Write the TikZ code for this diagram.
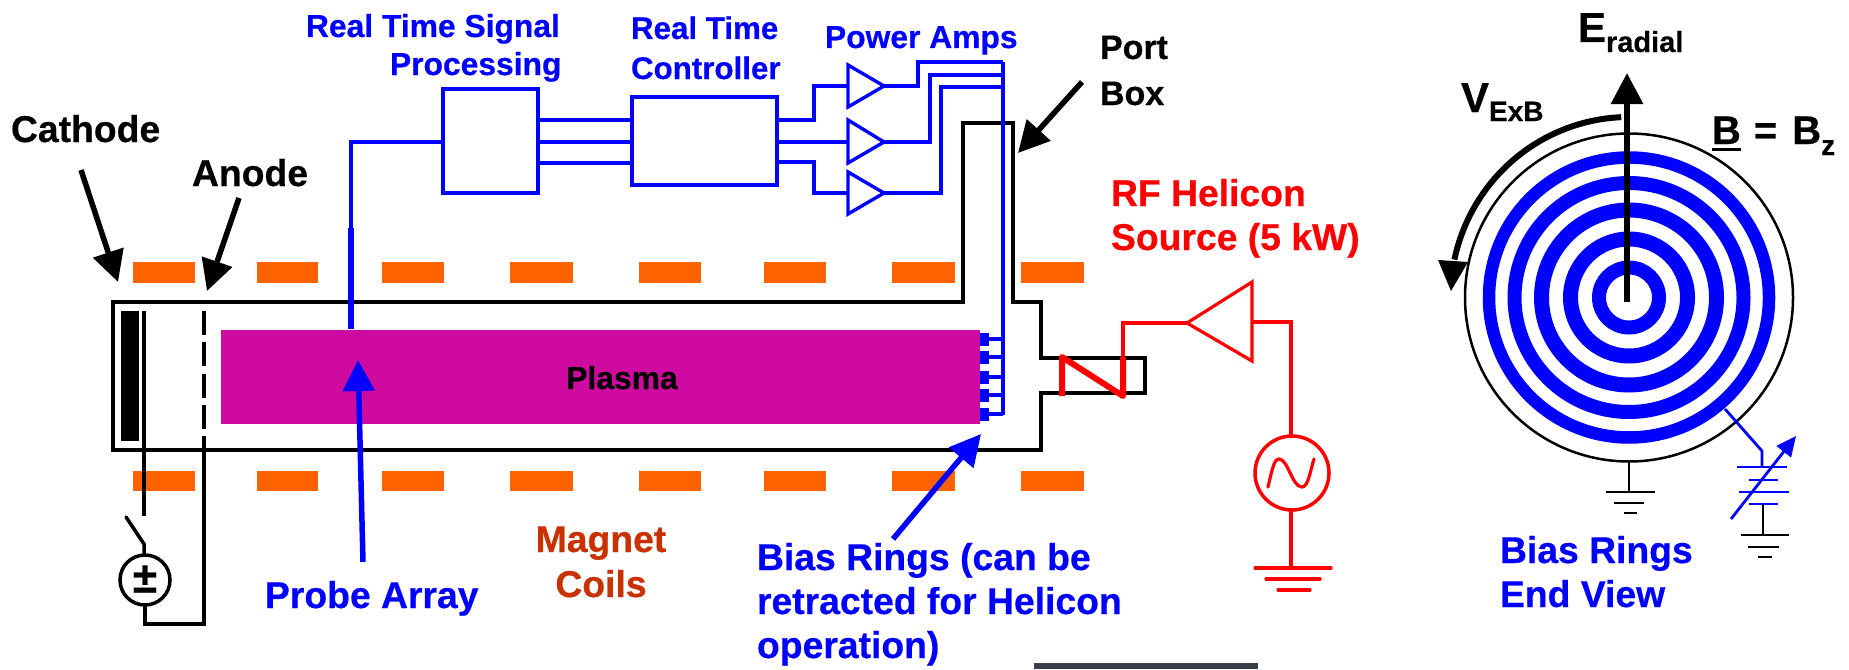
\documentclass[tikz,border=0pt]{standalone}
\usepackage{fontspec}
\setmainfont{Liberation Sans}[BoldFont={Liberation Sans Bold},BoldFeatures={FakeBold=0.5}]
\usetikzlibrary{arrows.meta,calc}
\definecolor{coilorange}{RGB}{255,98,0}
\definecolor{plasmac}{RGB}{207,10,160}
\definecolor{magnetc}{RGB}{200,50,0}
\definecolor{darkbar}{RGB}{58,62,72}
\definecolor{pblue}{RGB}{0,0,255}
\definecolor{pred}{RGB}{255,0,0}
\newcommand{\fs}[1]{\fontsize{#1}{#1}\selectfont}
\newcommand{\lowered}[3]{\raisebox{-#1pt}{\fs{#2}#3}}
\tikzset{
  lbl/.style={inner sep=0pt,outer sep=0pt,anchor=base west,font=\bfseries\fs{37.3}},
  small/.style={lbl,font=\bfseries\fs{31.8},text=pblue},
  coil/.style={fill=coilorange,draw=none},
  bwire/.style={draw=pblue,line width=3.4pt,line join=miter},
  kwire/.style={draw=black,line width=3.5pt,line join=miter},
  rwire/.style={draw=pred,line width=3.2pt,line join=miter},
  kthin/.style={draw=black,line width=2.5pt},
  bthin/.style={draw=pblue,line width=2.5pt},
  bigarrow/.style={line width=5.5pt,-{Triangle[width=31pt,length=31pt]}},
  bbox/.style={draw=pblue,line width=3.4pt,inner sep=0pt,outer sep=0pt,anchor=north west},
  ring/.style={draw=pblue,fill=none},
  term/.style={fill=pblue,draw=none},
}
\begin{document}
\begin{tikzpicture}[x=1pt,y=-1pt]
\useasboundingbox (0,0) rectangle (1849,669);
\fill[white] (0,0) rectangle (1849,669);

% bottom dark strip
\fill[darkbar] (1034,663) rectangle (1258,669);

% magnet coils
\foreach \a/\b in {133/195,257/318,382/444,510/573,639/701,764/826,892/955,1021/1084}{
  \fill[coil] (\a,262) rectangle (\b,283);
  \fill[coil] (\a,471) rectangle (\b,491);
}

% plasma
\node[fill=plasmac,inner sep=0pt,outer sep=0pt,anchor=north west,minimum width=759pt,minimum height=94pt] (plasma) at (221,329.5) {};
\node[small,anchor=base,text=black] (plasmalbl) at (622,389) {Plasma};

% chamber & port box
\draw[kwire] (963,302) -- (113,302) -- (113,450) -- (1041,450) -- (1041,393) -- (1145,393) -- (1145,358) -- (1041,358) -- (1041,302) -- (1013,302) -- (1013,123) -- (963,123) -- cycle;

% cathode
\fill[black] (121,311) rectangle (139,441);
\coordinate (cathtop) at (144,311);
\coordinate (cathend) at (144,516);
\draw[black,line width=4.5pt] (cathtop) -- (cathend);
\coordinate (swa) at (126,517);
\coordinate (swb) at (144,544);
\node[circle,draw=black,line width=3.5pt,minimum size=50pt,inner sep=0pt,outer sep=0pt] (supply) at (145,580) {};
\node[inner sep=0pt,font=\bfseries\fs{44}] (pm) at (145,579) {±};
\draw[black,line width=3.5pt,line cap=round] (swa) -- (swb) -- (supply.north -| swb);
% anode
\coordinate (anodetop) at (204,311);
\coordinate (anodemid) at (204,436);
\coordinate (anodebot) at (204,624);
\draw[black,line width=3.5pt,dash pattern=on 24pt off 7.3pt] (anodetop) -- (anodemid);
\draw[black,line width=3.5pt] (anodemid) -- (anodebot) -- (anodebot -| supply.south) -- (supply.south);

% labels and arrows, left
\node[lbl] (cathode) at (11,142) {Cathode};
\node[lbl] (anode) at (192,186) {Anode};
\coordinate (ca) at (81,170); \coordinate (cb) at (118,282);
\draw[bigarrow] (ca) -- (cb);
\coordinate (aa) at (239,198); \coordinate (ab) at (207,291);
\draw[bigarrow] (aa) -- (ab);

% signal chain
\node[bbox,minimum width=95pt,minimum height=104pt] (box1) at (443,89) {};
\node[bbox,minimum width=145pt,minimum height=88pt] (box2) at (632,97) {};
\coordinate (probebot) at (351,329);
\coordinate (probethick) at (351,228);
\draw[bwire] (box1.west |- 0,142) -- (351,142) -- (probethick);
\draw[draw=pblue,line width=6pt] (probethick) -- (probebot);
\foreach \y in {120,142,163}{ \draw[bwire] (box1.east |- 0,\y) -- (box2.west |- 0,\y); }

\foreach \n/\t/\c/\b in {a/65/86/107,b/120/142/163,c/172/193/214}{
  \coordinate (amp\n l) at (848,\c);
  \coordinate (amp\n t) at (884,\c);
  \draw[bwire] (848,\t) -- (884,\c) -- (848,\b) -- cycle;
}
\coordinate (bus) at (1003,62);
\coordinate (busbot) at (1003,415);
\draw[bwire] (box2.east |- 0,120) -- (814,120) -- (814,86) -- (ampal);
\draw[bwire] (box2.east |- 0,142) -- (ampbl);
\draw[bwire] (box2.east |- 0,162) -- (814,162) -- (814,193) -- (ampcl);
\draw[bwire] (ampat) -- (918,86) -- (918,62) -- (bus);
\draw[bwire] (ampbt) -- (930,142) -- (930,75) -- (1003,75);
\draw[bwire] (ampct) -- (941,193) -- (941,87) -- (1003,87);
\draw[bwire] (bus) -- (busbot);

% bias ring terminals
\foreach \y in {339,357,377,395,414}{
  \fill[term] (980,\y-6.5) rectangle (989,\y+6.5);
  \draw[bwire] (989,\y) -- (1003,\y);
}

\node[small] (rts) at (306,37) {Real Time Signal};
\node[small] (proc) at (390,75) {Processing};
\node[small,font=\bfseries\fs{31.3}] (rtc) at (631,39) {Real Time};
\node[small,font=\bfseries\fs{31.3}] (ctrl) at (631,79) {Controller};
\node[small] (pamps) at (825,48) {Power Amps};
\node[lbl,font=\bfseries\fs{34}] (port) at (1100,59) {Port};
\node[lbl,font=\bfseries\fs{34}] (boxl) at (1100,105) {Box};
\coordinate (pa) at (1082,82); \coordinate (pb) at (1018,153);
\draw[bigarrow] (pa) -- (pb);

% probe and bias arrows
\coordinate (ppa) at (363,562); \coordinate (ppb) at (358,360);
\draw[bigarrow,draw=pblue,fill=pblue] (ppa) -- (ppb);
\coordinate (bra) at (893,539); \coordinate (brb) at (981,434);
\draw[bigarrow,draw=pblue,fill=pblue] (bra) -- (brb);
\node[lbl,text=pblue] (probe) at (265,608) {Probe Array};
\node[lbl,text=pblue] (bias1) at (757,570) {Bias Rings (can be};
\node[lbl,text=pblue] (bias2) at (757,614) {retracted for Helicon};
\node[lbl,text=pblue] (bias3) at (757,658) {operation)};
\node[lbl,text=magnetc,anchor=base] (mag1) at (601,552) {Magnet};
\node[lbl,text=magnetc,anchor=base] (mag2) at (601,597) {Coils};

% RF source
\coordinate (c1) at (1062,357); \coordinate (c2) at (1062,396);
\coordinate (c3) at (1123,396); \coordinate (c4) at (1123,357);
\draw[pred,line width=6pt,line join=round] (c2) -- (c1) -- (c3) -- (c4);
\coordinate (rtip) at (1187,323);
\draw[rwire] (c4) -- (1123,323) -- (rtip);
\draw[rwire] (rtip) -- (1252,282) -- (1252,361) -- cycle;
\node[circle,draw=pred,line width=3.5pt,minimum size=74pt,inner sep=0pt,outer sep=0pt] (rfsrc) at (1292,473) {};
\draw[rwire] (1252,322) -- (1291,322) -- (rfsrc.north -| 1291,436);
\draw[rwire,line cap=round] (1268,487) .. controls (1272,470) and (1274,459) .. (1279,459) .. controls (1288,459) and (1292,487) .. (1302,487) .. controls (1308,487) and (1310,472) .. (1314,459);
\coordinate (rg) at (1291,568);
\draw[rwire] (rfsrc.south -| rg) -- (rg);
\draw[rwire,line cap=round] (1255,568) -- (1331,568) (1266,579) -- (1320,579) (1278,590) -- (1310,590);
\node[lbl,text=pred] (rf1) at (1111,206) {RF Helicon};
\node[lbl,text=pred] (rf2) at (1111,250) {Source (5 kW)};

% end view
\coordinate (ctr) at (1629,297.5);
\draw[black,line width=2.5pt] (ctr) circle[radius=164pt];
\foreach \r/\w in {30/14,58.5/15,87.5/15,114.5/14,140/12.5}{
  \draw[ring,line width=\w pt] (ctr) circle[radius=\r pt];
}
\coordinate (ea) at (1627,302); \coordinate (eb) at (1627,73);
\draw[line width=6pt,-{Triangle[width=31pt,length=31pt]}] (ea) -- (eb);
\draw[line width=6pt,smooth] plot[domain=92.5:168,samples=40] ({1629+178.5*cos(\x)},{297-180*sin(\x)});
\fill[black] (1438,260) -- (1468,262) -- (1451,291) -- cycle;

\node[lbl,font=\bfseries\fs{42}] (erad) at (1578,42) {E\lowered{10}{29}{radial}};
\node[lbl,font=\bfseries\fs{42}] (vexb) at (1461,112) {V\lowered{9}{28}{ExB}};
\node[lbl,font=\bfseries\fs{40}] (bz) at (1712,144) {B\llap{\rule[-7pt]{29pt}{3pt}}\hspace*{13pt}=\hspace*{15pt}B\lowered{11}{28}{z}};

% ground, end view
\coordinate (g1) at (1629,462); \coordinate (g2) at (1629,492);
\draw[kthin] (g1) -- (g2);
\draw[kthin] (1606,492) -- (1655,492) (1614,503) -- (1644,503) (1624,513) -- (1637,513);

% battery
\coordinate (r5) at (1725,409); \coordinate (bk) at (1762,451); \coordinate (bt) at (1762,467);
\draw[bthin,line width=2.8pt] (r5) -- (bk) -- (bt);
\draw[bthin] (1737,467) -- (1787,467) (1749,480) -- (1778,480) (1739,492) -- (1789,492) (1749,504) -- (1778,504);
\coordinate (va) at (1731,519); \coordinate (vb) at (1796,436);
\draw[draw=pblue,line width=2.8pt,-{Triangle[width=18pt,length=20pt]}] (va) -- (vb);
\coordinate (bg1) at (1763,504); \coordinate (bg2) at (1763,535);
\draw[kthin] (bg1) -- (bg2);
\draw[kthin] (1741,535) -- (1789,535) (1748,547) -- (1779,547) (1758,557) -- (1772,557);

\node[lbl,text=pblue] (ev1) at (1500,563) {Bias Rings};
\node[lbl,text=pblue] (ev2) at (1500,607) {End View};
\end{tikzpicture}
\end{document}
